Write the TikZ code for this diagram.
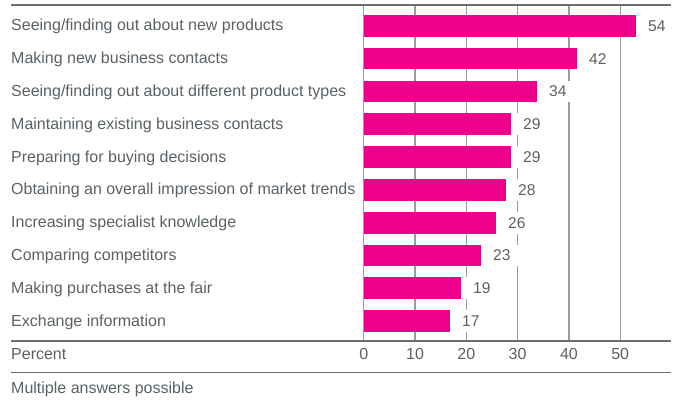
\documentclass[tikz,border=0pt]{standalone}
\usepackage{fontspec}
\setmainfont{Liberation Sans}
\definecolor{barpink}{RGB}{236,0,140}
\definecolor{txtgray}{RGB}{90,97,102}
\definecolor{rulegray}{RGB}{105,111,115}
\definecolor{gridgray}{RGB}{150,156,160}
\tikzset{
  lab/.style={inner sep=0pt, text=txtgray, font=\fontsize{16}{19}\selectfont},
  val/.style={anchor=west, fill=white, minimum height=21.7pt, inner xsep=10pt, inner ysep=0pt, text=txtgray, font=\fontsize{15.6}{18}\selectfont},
  gridline/.style={draw=gridgray, line width=1.3pt},
}
\newcommand\chartrow[4]{%
  \pgfmathsetmacro\rtop{15+32.8*(#1-1)}%
  \fill[barpink] (363.7,\rtop) rectangle (#2,\rtop+21.7);
  \node[lab, anchor=base west] (lab#1) at (11,\rtop+10.85+5.0) {#4};
  \node[val] (val#1) at (#2+2,\rtop+10.85) {#3};
}
\begin{document}
\begin{tikzpicture}[x=1pt,y=-1pt]
\useasboundingbox (0,0) rectangle (679,401);
% grid lines
\foreach \k in {0,...,5}{
  \coordinate (gt\k) at (363.7+51.3*\k,5);
  \coordinate (gb\k) at (363.7+51.3*\k,341);
  \draw[gridline] (gt\k) -- (gb\k);
  \node[lab, anchor=base] (tick\k) at (363.7+51.3*\k,359.3) {\the\numexpr\k*10\relax};
}
% rows
\chartrow{1}{636}{54}{Seeing/finding out about new products}
\chartrow{2}{577}{42}{Making new business contacts}
\chartrow{3}{537}{34}{Seeing/finding out about different product types}
\chartrow{4}{511}{29}{Maintaining existing business contacts}
\chartrow{5}{511}{29}{Preparing for buying decisions}
\chartrow{6}{506}{28}{Obtaining an overall impression of market trends}
\chartrow{7}{496}{26}{Increasing specialist knowledge}
\chartrow{8}{481}{23}{Comparing competitors}
\chartrow{9}{461}{19}{Making purchases at the fair}
\chartrow{10}{450}{17}{Exchange information}
% rules
\coordinate (tl) at (11,5); \coordinate (tr) at (671,5);
\coordinate (al) at (11,341); \coordinate (ar) at (671,341);
\coordinate (bl) at (11,372.3); \coordinate (br) at (671,372.3);
\draw[rulegray, line width=1.7pt] (tl) -- (tr);
\draw[rulegray, line width=2.2pt] (al) -- (ar);
\draw[rulegray, line width=1.1pt] (bl) -- (br);
\node[lab, anchor=base west] (percent) at (11,359.3) {Percent};
\node[lab, anchor=base west] (note) at (11,393.3) {Multiple answers possible};
\end{tikzpicture}
\end{document}
